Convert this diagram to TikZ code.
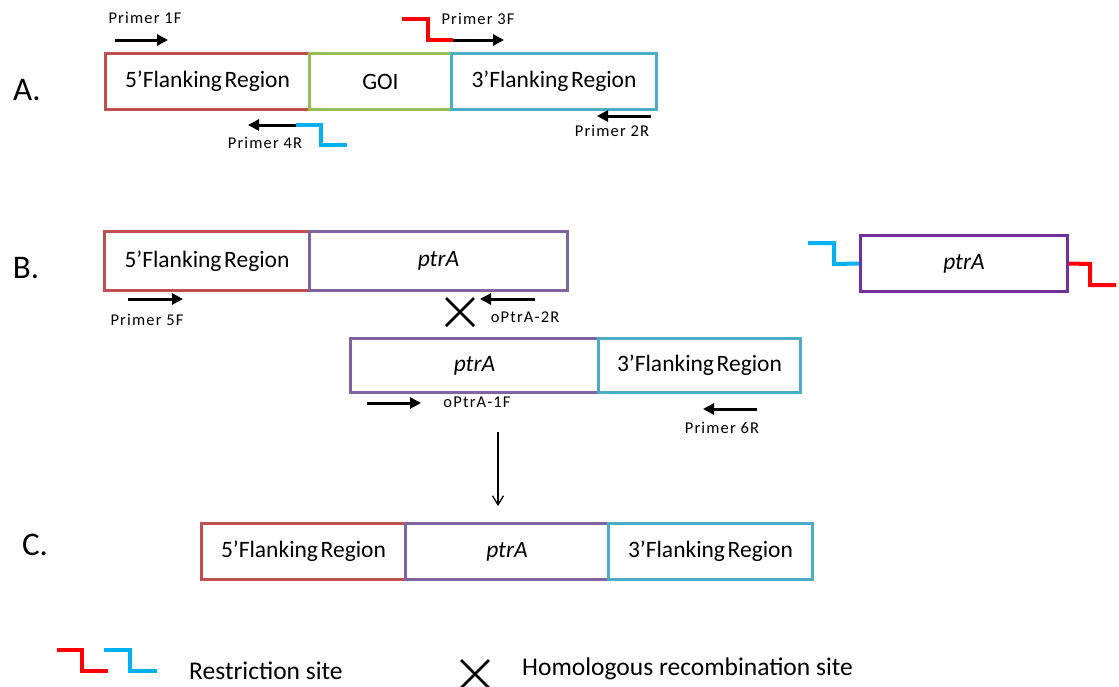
\documentclass[tikz,border=0pt]{standalone}
\usepackage{fontspec}
\setmainfont{Carlito}
\newfontfamily\primerfont[LetterSpace=7]{Carlito}
\newfontfamily\boxfont[WordSpace=0.5]{Carlito}
\usetikzlibrary{arrows.meta}
\definecolor{flankfive}{HTML}{C0504D}
\definecolor{goicol}{HTML}{9BBB59}
\definecolor{flankthree}{HTML}{4BACC6}
\definecolor{ptracol}{HTML}{8064A2}
\definecolor{ptradark}{HTML}{7030A0}
\definecolor{sitered}{HTML}{FF0000}
\definecolor{siteblue}{HTML}{00B0F0}
\begin{document}
\begin{tikzpicture}[x=1pt,y=-1pt,
  seg/.style={draw=#1, line width=3pt, minimum height=56pt, anchor=north west,
    inner sep=0pt, font=\boxfont\fontsize{23.5}{25}\selectfont},
  primer/.style={line width=3pt, -{Triangle[length=11pt,width=11pt]}},
  primerlabel/.style={inner sep=0pt, font=\primerfont\fontsize{16.5}{18}\selectfont},
  site/.style={line width=4pt, line join=miter, line cap=butt},
  partlabel/.style={inner sep=0pt, font=\fontsize{33}{35}\selectfont},
  legendtext/.style={inner sep=0pt, anchor=west, font=\fontsize{25.5}{27}\selectfont},
  cross/.style={line width=2.7pt}]
\useasboundingbox[fill=white] (0,0) rectangle (1119,686);

% ---------- A. wild-type locus ----------
\node[partlabel] (labA) at (27,90) {A.};
\node[seg=flankfive, minimum width=204pt] (a5) at (104,52) {5’Flanking Region};
\node[seg=goicol, minimum width=142pt] (agoi) at (308,52) {GOI};
\node[seg=flankthree, minimum width=205pt] (a3) at (450,52) {3’Flanking Region};

\coordinate (p1s) at (115,40); \coordinate (p1e) at (168,40);
\draw[primer] (p1s) -- (p1e);
\node[primerlabel] (p1) at (145,18) {Primer 1F};

\coordinate (r3a) at (402,19); \coordinate (r3b) at (453,40); \coordinate (p3e) at (504,40);
\draw[site, sitered] (r3a) -| (428,40) -- (r3b);
\draw[primer] (r3b) -- (p3e);
\node[primerlabel] (p3) at (478,19) {Primer 3F};

\coordinate (b4a) at (347,145); \coordinate (b4b) at (296,125); \coordinate (p4e) at (248,125);
\draw[site, siteblue] (b4a) -- (321,145) |- (b4b);
\draw[primer] (b4b) -- (p4e);
\node[primerlabel] (p4) at (265,143) {Primer 4R};

\coordinate (p2s) at (651,116); \coordinate (p2e) at (597,116);
\draw[primer] (p2s) -- (p2e);
\node[primerlabel] (p2) at (612,131) {Primer 2R};

% ---------- B. fusion fragments ----------
\node[partlabel] (labB) at (26,268) {B.};
\node[seg=flankfive, minimum width=205pt, minimum height=59pt] (b5) at (103,230) {5’Flanking Region};
\node[seg=ptracol, minimum width=258pt, minimum height=59pt] (bptr) at (308,230) {\itshape ptrA};

\coordinate (p5s) at (128,299); \coordinate (p5e) at (183,299);
\draw[primer] (p5s) -- (p5e);
\node[primerlabel] (p5) at (147,320) {Primer 5F};

\coordinate (o2s) at (535,299); \coordinate (o2e) at (480,299);
\draw[primer] (o2s) -- (o2e);
\node[primerlabel] (o2) at (525,317) {oPtrA-2R};

\coordinate (x1) at (460,312);
\draw[cross] ([shift={(-14,-14)}]x1) -- ([shift={(14,14)}]x1)
             ([shift={(-14,14)}]x1) -- ([shift={(14,-14)}]x1);

\node[seg=ptracol, minimum width=248pt, minimum height=54pt] (mptr) at (349,337) {\itshape ptrA};
\node[seg=flankthree, minimum width=202pt, minimum height=54pt] (m3) at (597,337) {3’Flanking Region};

\coordinate (o1s) at (367,403); \coordinate (o1e) at (421,403);
\draw[primer] (o1s) -- (o1e);
\node[primerlabel] (o1) at (477,402) {oPtrA-1F};

\coordinate (p6s) at (757,409); \coordinate (p6e) at (703,409);
\draw[primer] (p6s) -- (p6e);
\node[primerlabel] (p6) at (722,428) {Primer 6R};

% marker cassette with restriction ends
\node[seg=ptradark, minimum width=207pt, minimum height=56pt] (cas) at (859,234) {\itshape ptrA};
\draw[site, siteblue] (808,243) -| (834,264) -- (cas.west);
\draw[site, sitered] (cas.east) -- (1090,264) |- (1116,285);

% ---------- C. replaced locus ----------
\coordinate (dstart) at (498,432);
\coordinate (dend) at (498,506);
\draw[line width=1.3pt, -{Straight Barb[length=9pt,width=11pt]}] (dstart) -- (dend);

\node[partlabel] (labC) at (35,545) {C.};
\node[seg=flankfive, minimum width=204pt] (c5) at (200,522) {5’Flanking Region};
\node[seg=ptracol, minimum width=203pt] (cptr) at (404,522) {\itshape ptrA};
\node[seg=flankthree, minimum width=204pt] (c3) at (607,522) {3’Flanking Region};

% ---------- legend ----------
\draw[site, sitered] (57,650) -| (82,671) -- (108,671);
\draw[site, siteblue] (104,650) -| (130,671) -- (157,671);
\node[legendtext] (lrs) at (189,671) {Restriction site};
\coordinate (x2) at (475,674);
\draw[cross] ([shift={(-14,-14)}]x2) -- ([shift={(14,14)}]x2)
             ([shift={(-14,14)}]x2) -- ([shift={(14,-14)}]x2);
\node[legendtext] (lhr) at (522,669) {Homologous recombination site};
\end{tikzpicture}
\end{document}
